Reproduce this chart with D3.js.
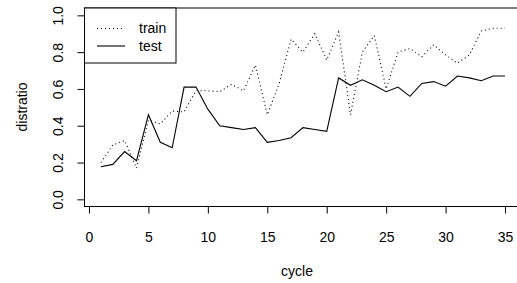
<!DOCTYPE html>
<html>
<head>
<meta charset="utf-8">
<script src="https://cdn.jsdelivr.net/npm/d3@7"></script>
<style>
    body { margin: 0; background: #fff; }
    svg { display: block; font-family: "Liberation Sans", Arial, sans-serif; }
    .axis text { font-size: 14px; fill: #000; }
</style>
</head>
<body>
<div class="chart"></div>
<script>
var cycles = d3.range(1, 36);
var trainValues = [0.20, 0.295, 0.32, 0.17, 0.43, 0.41, 0.48, 0.475, 0.59, 0.59,
                   0.585, 0.625, 0.59, 0.73, 0.46, 0.63, 0.87, 0.80, 0.90, 0.757,
                   0.91, 0.46, 0.80, 0.89, 0.60, 0.80, 0.82, 0.775, 0.84, 0.785,
                   0.74, 0.785, 0.915, 0.93, 0.93];
var testValues = [0.177, 0.19, 0.26, 0.21, 0.46, 0.31, 0.28, 0.61, 0.61, 0.49,
                  0.40, 0.39, 0.38, 0.39, 0.31, 0.32, 0.335, 0.39, 0.38, 0.37,
                  0.66, 0.62, 0.65, 0.62, 0.585, 0.61, 0.56, 0.63, 0.64, 0.615,
                  0.67, 0.66, 0.645, 0.67, 0.67];
var xTicks = [0, 5, 10, 15, 20, 25, 30, 35];
var yTicks = [0, 0.2, 0.4, 0.6, 0.8, 1.0];
var seriesNames = ["train", "test"];

var width = 517, height = 283;

var svg = d3.select(".chart").append("svg")
    .attr("width", width)
    .attr("height", height);

// R style: 4% padding round the data range
var x = d3.scaleLinear().domain([-0.36, 36.36]).range([84.7, 521.2]);
var y = d3.scaleLinear().domain([-0.04, 1.04]).range([206.7, 8]);

var line = d3.line()
    .x(function (d) { return x(d[0]); })
    .y(function (d) { return y(d[1]); });

var series = [
    { name: seriesNames[0], values: trainValues, dash: "1,3" },
    { name: seriesNames[1], values: testValues, dash: null }
];

svg.selectAll("path.series")
    .data(series)
    .enter()
    .append("path")
    .attr("class", "series")
    .attr("fill", "none")
    .attr("stroke", "#000")
    .attr("stroke-width", 1.1)
    .attr("stroke-dasharray", function (s) { return s.dash; })
    .attr("d", function (s) {
        return line(cycles.map(function (c, i) { return [c, s.values[i]]; }));
    });

// x axis
var xAxis = svg.append("g")
    .attr("class", "axis")
    .attr("transform", "translate(0," + 206.5 + ")")
    .call(d3.axisBottom(x).tickValues(xTicks).tickSize(7).tickPadding(19).tickFormat(d3.format("d")));
xAxis.select(".domain").remove();

// y axis
var yAxis = svg.append("g")
    .attr("class", "axis")
    .attr("transform", "translate(" + 84.5 + ",0)")
    .call(d3.axisLeft(y).tickValues(yTicks).tickSize(7).tickFormat(d3.format(".1f")));
yAxis.select(".domain").remove();
yAxis.selectAll("text")
    .attr("x", null)
    .attr("dy", null)
    .attr("text-anchor", "middle")
    .attr("transform", "translate(-22,0) rotate(-90)");

// frame
svg.append("rect")
    .attr("x", 84.5)
    .attr("y", 8)
    .attr("width", 521.2 - 84.5)
    .attr("height", 206.5 - 8)
    .attr("fill", "none")
    .attr("stroke", "#000");

// axis titles
svg.append("text")
    .attr("x", x(17.5))
    .attr("y", 276)
    .attr("text-anchor", "middle")
    .style("font-size", "14px")
    .text("cycle");

svg.append("text")
    .attr("transform", "translate(27," + 107 + ") rotate(-90)")
    .attr("text-anchor", "middle")
    .style("font-size", "14px")
    .text("distratio");

// legend
var legend = svg.append("g");
legend.append("rect")
    .attr("x", 84.5)
    .attr("y", 8)
    .attr("width", 91.5)
    .attr("height", 55)
    .attr("fill", "#fff")
    .attr("stroke", "#000");

var items = legend.selectAll("g.item")
    .data(series)
    .enter()
    .append("g")
    .attr("transform", function (s, i) { return "translate(0," + (28.5 + i * 17.5) + ")"; });

items.append("line")
    .attr("x1", 97)
    .attr("x2", 125)
    .attr("stroke", "#000")
    .attr("stroke-width", 1.1)
    .attr("stroke-dasharray", function (s) { return s.dash; });

items.append("text")
    .attr("x", 139)
    .attr("dy", "0.35em")
    .style("font-size", "14px")
    .text(function (s) { return s.name; });
</script>
</body>
</html>
